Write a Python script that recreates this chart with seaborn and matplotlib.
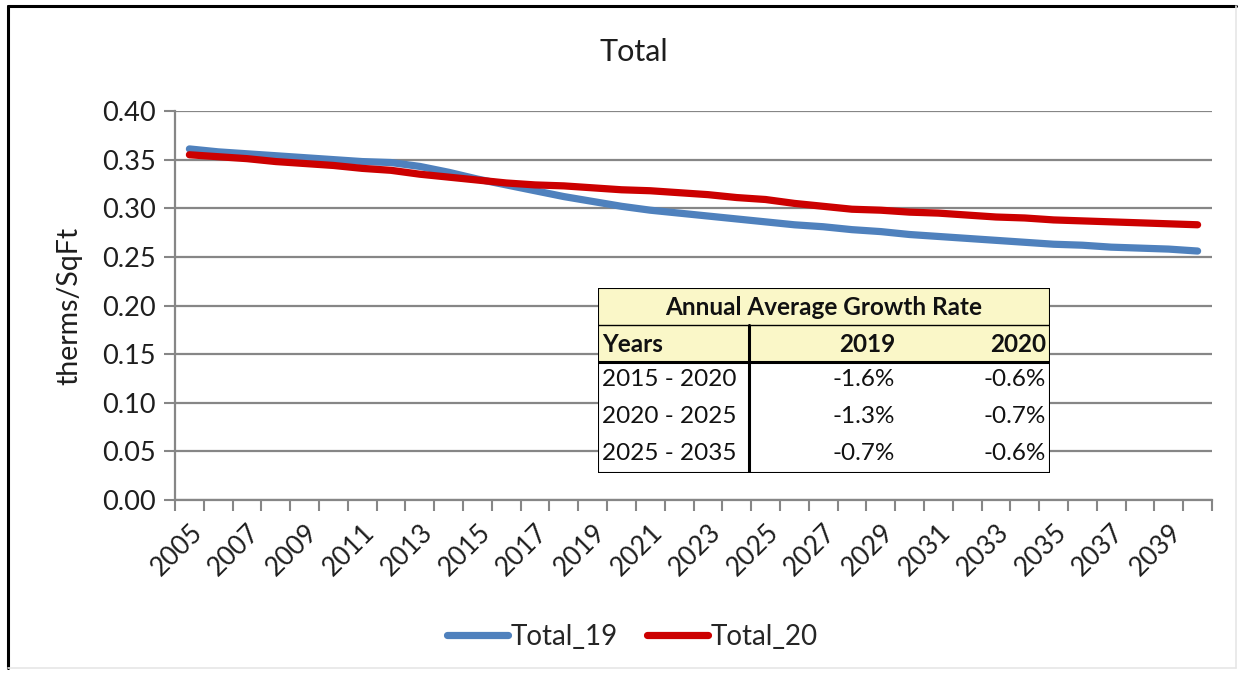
import pandas as pd
import matplotlib
matplotlib.use("Agg")
import matplotlib.pyplot as plt
from matplotlib.lines import Line2D
from matplotlib.patches import Rectangle
import seaborn as sns

# ---- data ----
years = list(range(2005, 2041))
total_19 = [0.361, 0.358, 0.356, 0.354, 0.352, 0.350, 0.348, 0.347, 0.343, 0.337,
            0.330, 0.324, 0.318, 0.312, 0.307, 0.302, 0.298, 0.295, 0.292, 0.289,
            0.286, 0.283, 0.281, 0.278, 0.276, 0.273, 0.271, 0.269, 0.267, 0.265,
            0.263, 0.262, 0.260, 0.259, 0.258, 0.256]
total_20 = [0.355, 0.353, 0.351, 0.348, 0.346, 0.344, 0.341, 0.339, 0.335, 0.332,
            0.329, 0.326, 0.324, 0.323, 0.321, 0.319, 0.318, 0.316, 0.314, 0.311,
            0.309, 0.305, 0.302, 0.299, 0.298, 0.296, 0.295, 0.293, 0.291, 0.290,
            0.288, 0.287, 0.286, 0.285, 0.284, 0.283]
series_names = ["Total_19", "Total_20"]
series_colors = ["#4F81BD", "#CC0000"]

tab_title = "Annual Average Growth Rate"
tab_header = ["Years", "2019", "2020"]
tab_periods = ["2015 - 2020", "2020 - 2025", "2025 - 2035"]
tab_2019 = ["-1.6%", "-1.3%", "-0.7%"]
tab_2020 = ["-0.6%", "-0.7%", "-0.6%"]

df = pd.DataFrame({
    "year": years * 2,
    "value": total_19 + total_20,
    "series": [series_names[0]] * len(years) + [series_names[1]] * len(years),
})

sns.set_theme(style="white")
plt.rcParams["font.family"] = ["Lato", "DejaVu Sans"]

fig = plt.figure(figsize=(12.47, 6.79), dpi=100)
ax = fig.add_axes([175 / 1247, 1 - 500 / 679, 1037 / 1247, 389 / 679])

sns.lineplot(data=df, x="year", y="value", hue="series", palette=series_colors,
             linewidth=5.2, ax=ax, legend=False, zorder=3)

grid_c = "#868686"
txt_c = "#1E1E1E"
ax.set_ylim(0, 0.40)
ax.set_yticks([i * 0.05 for i in range(9)])
ax.set_yticklabels([f"{i * 0.05:.2f}" for i in range(9)], fontsize=19.5, color=txt_c)
ax.yaxis.grid(True, color=grid_c, linewidth=1.6, zorder=0)
ax.set_axisbelow(True)

ax.set_xlim(years[0] - 0.5, years[-1] + 0.5)
ax.set_xticks(years[::2])
ax.set_xticklabels([str(y) for y in years[::2]], rotation=45, ha="right",
                   rotation_mode="anchor", fontsize=19, color=txt_c)
ax.set_xticks([y - 0.5 for y in years] + [years[-1] + 0.5], minor=True)
ax.tick_params(axis="x", which="major", length=0, pad=14)
ax.tick_params(axis="x", which="minor", length=8, width=1.5, color=grid_c, bottom=True)
ax.tick_params(axis="y", length=8, width=1.5, color=grid_c, left=True, pad=6)

for s in ["top", "right"]:
    ax.spines[s].set_visible(False)
for s in ["left", "bottom"]:
    ax.spines[s].set_color(grid_c)
    ax.spines[s].set_linewidth(1.6)

ax.set_xlabel("")
ax.set_ylabel("therms/SqFt", fontsize=20.5, color=txt_c, labelpad=14)
fig.text(0.508, 1 - 52 / 679, "Total", ha="center", va="center", fontsize=22, color=txt_c)

# legend
handles = [Line2D([0], [0], color=c, lw=5.2) for c in series_colors]
fig.legend(handles, series_names, loc="center", bbox_to_anchor=(0.507, 1 - 637 / 679),
           ncol=2, frameon=False, fontsize=20, handlelength=2.2, handletextpad=0.08,
           columnspacing=1.05)

# growth-rate table, drawn in its own pixel-sized axes
tw, th = 452, 185
tax = fig.add_axes([598 / 1247, 1 - 473 / 679, tw / 1247, th / 679])
tax.set_xlim(0, tw)
tax.set_ylim(th, 0)
tax.axis("off")
rows_y = [0, 37, 74, 110, 147, 185]
col_x = 151
yellow = "#FAF7C8"
tax.add_patch(Rectangle((0, 0), tw, rows_y[2], facecolor=yellow, edgecolor="none"))
tax.add_patch(Rectangle((0, rows_y[2]), tw, th - rows_y[2], facecolor="white", edgecolor="none"))
tax.plot([0, tw, tw, 0, 0], [0, 0, th, th, 0], color="black", lw=1.5)
tax.plot([0, tw], [rows_y[1], rows_y[1]], color="black", lw=1.0)
tax.plot([0, tw], [rows_y[2], rows_y[2]], color="black", lw=2.2)
tax.plot([col_x, col_x], [rows_y[1], th], color="black", lw=2.2)

tab_fs = 17.5
tax.text(tw / 2, rows_y[0] + 19, tab_title, ha="center", va="center",
         fontsize=tab_fs, fontweight="bold", color="#111111")
tax.text(4, rows_y[1] + 19, tab_header[0], ha="left", va="center",
         fontsize=tab_fs, fontweight="bold", color="#111111")
tax.text(297, rows_y[1] + 19, tab_header[1], ha="right", va="center",
         fontsize=tab_fs, fontweight="bold", color="#111111")
tax.text(448, rows_y[1] + 19, tab_header[2], ha="right", va="center",
         fontsize=tab_fs, fontweight="bold", color="#111111")
for i, (p, a, b) in enumerate(zip(tab_periods, tab_2019, tab_2020)):
    yc = (rows_y[2 + i] + rows_y[3 + i]) / 2
    tax.text(4, yc, p, ha="left", va="center", fontsize=tab_fs, color="#111111")
    tax.text(297, yc, a, ha="right", va="center", fontsize=tab_fs, color="#111111")
    tax.text(448, yc, b, ha="right", va="center", fontsize=tab_fs, color="#111111")

# outer frame: dark on left/top, faint on right/bottom
fig.add_artist(Line2D([8 / 1247, 8 / 1247], [1 - 668 / 679, 1 - 6 / 679], color="black", lw=2.2))
fig.add_artist(Line2D([8 / 1247, 1236 / 1247], [1 - 6 / 679, 1 - 6 / 679], color="black", lw=2.2))
fig.add_artist(Line2D([1236 / 1247, 1236 / 1247], [1 - 668 / 679, 1 - 6 / 679], color="#E6E6E6", lw=1.2))
fig.add_artist(Line2D([8 / 1247, 1236 / 1247], [1 - 668 / 679, 1 - 668 / 679], color="#E6E6E6", lw=1.2))

fig.savefig("out.png", dpi=100)
